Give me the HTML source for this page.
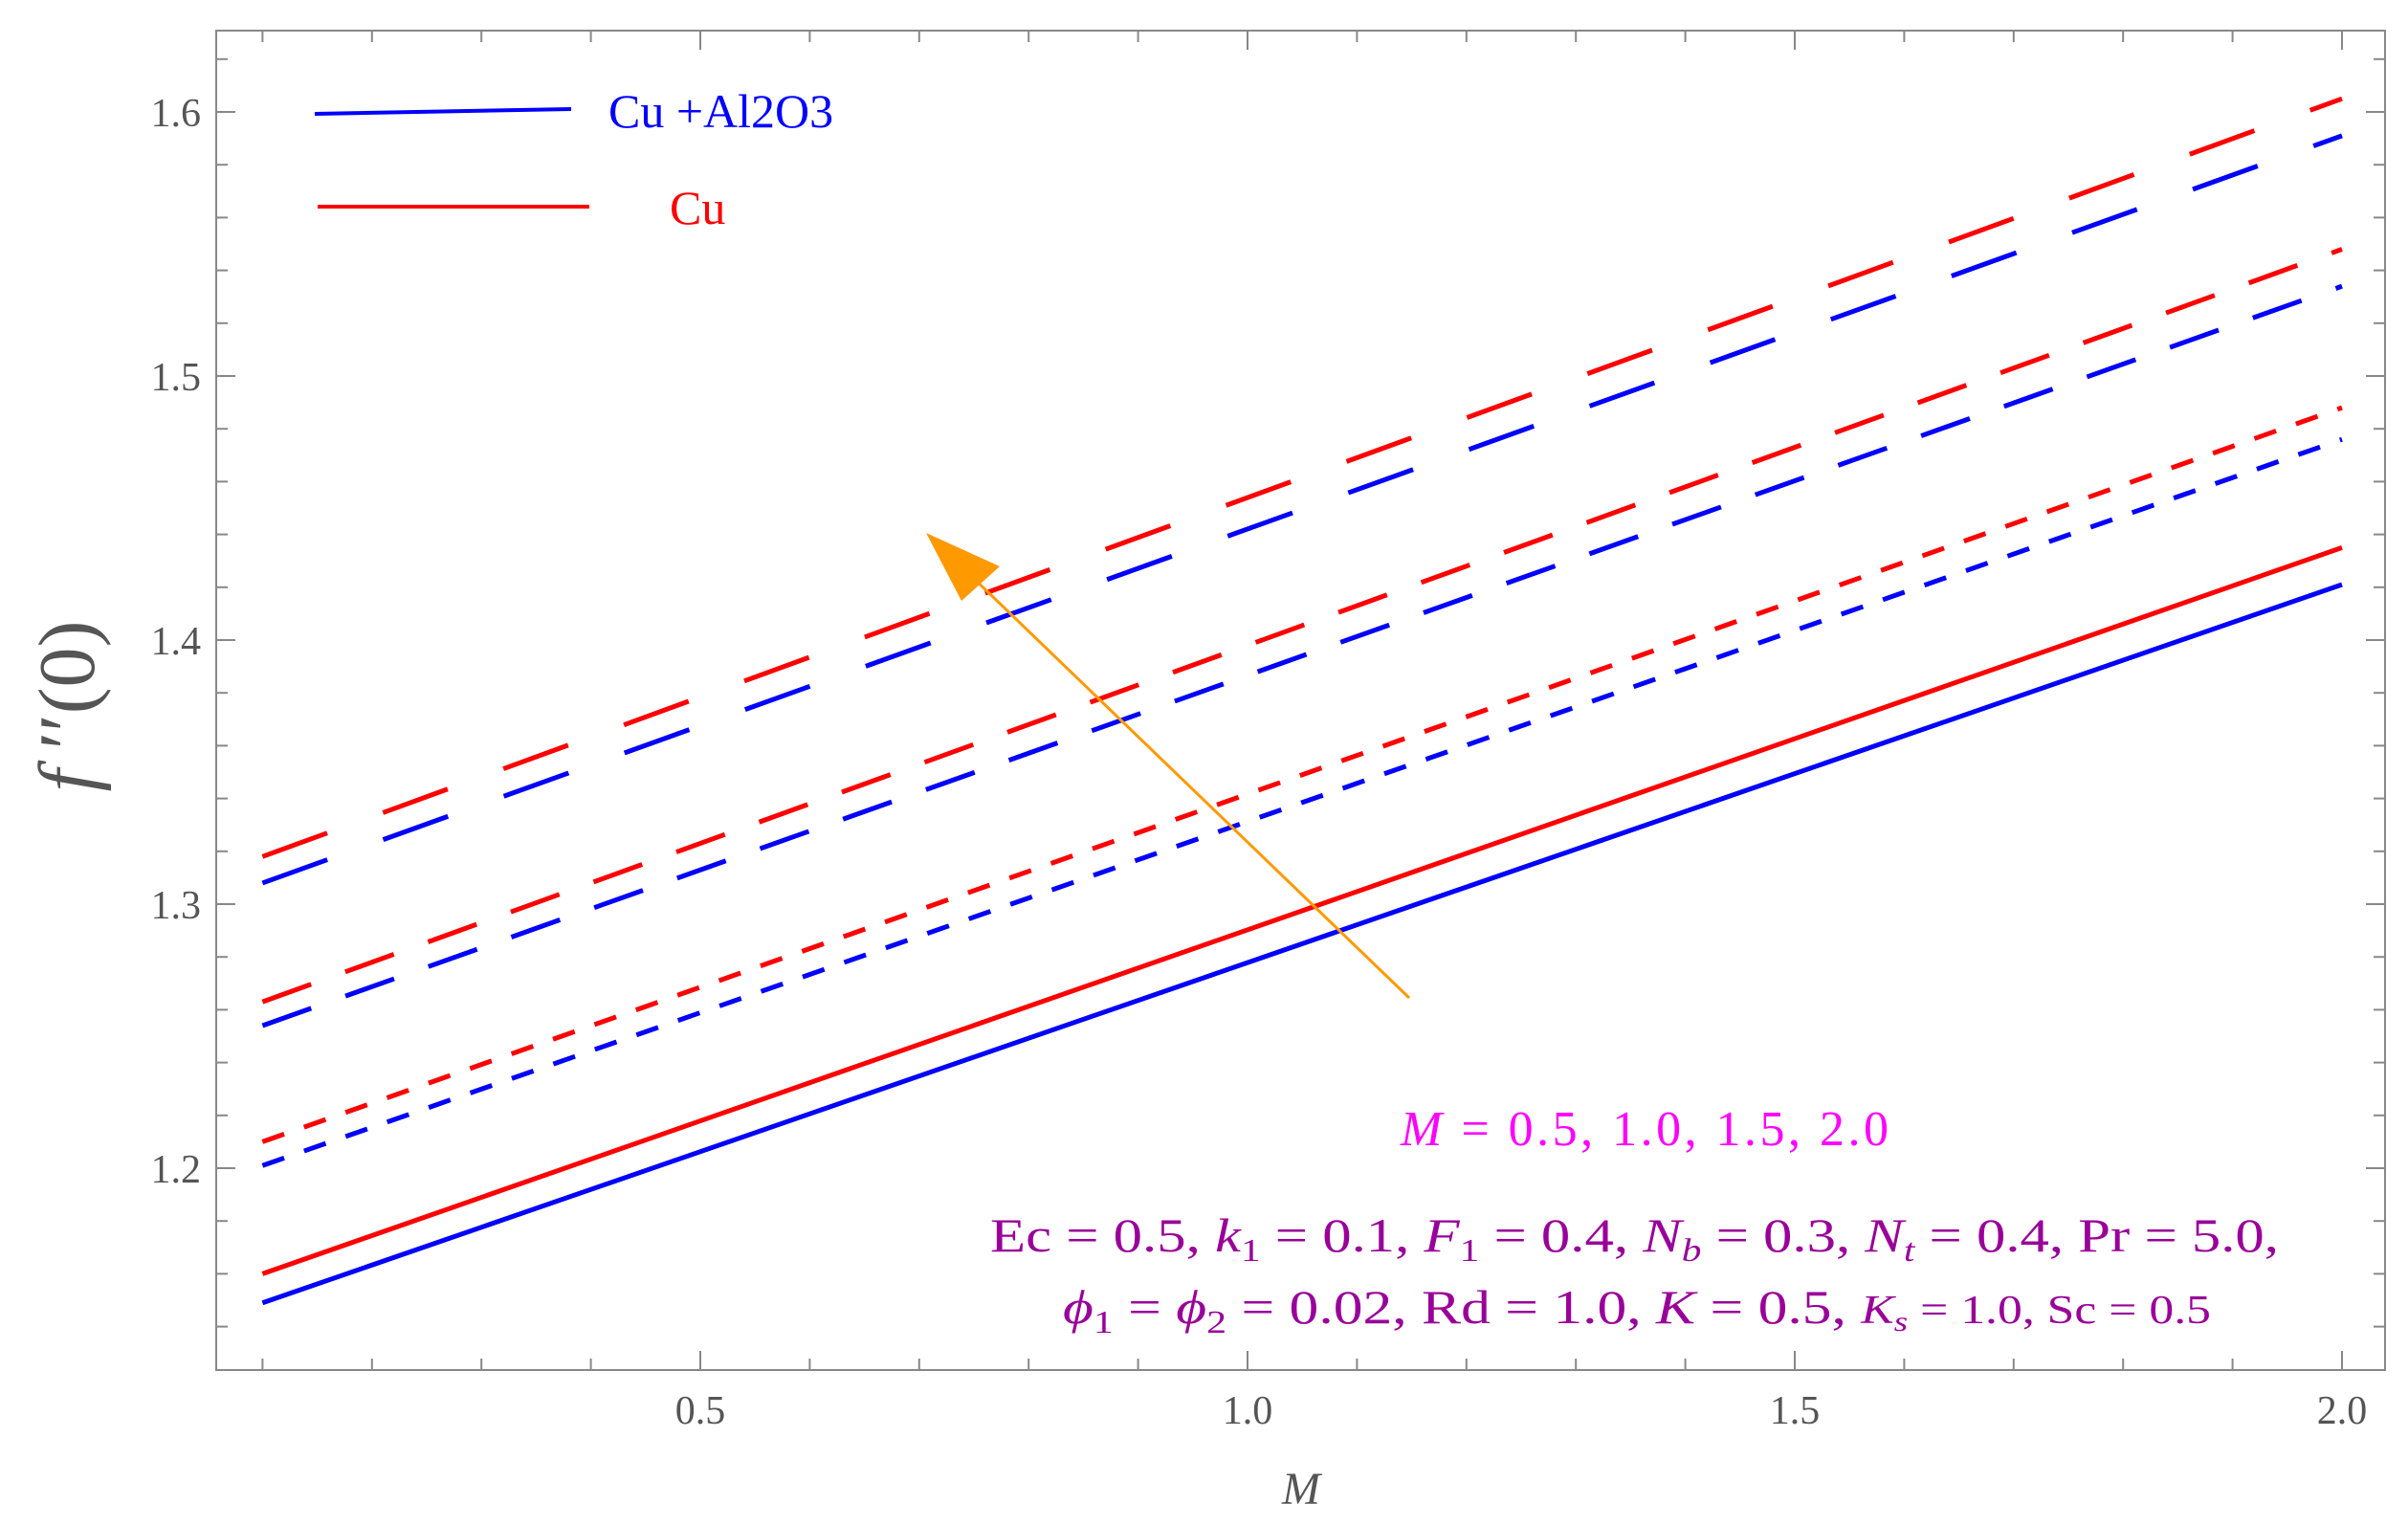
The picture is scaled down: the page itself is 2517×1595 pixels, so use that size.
<!DOCTYPE html>
<html><head><meta charset="utf-8"><style>
html,body{margin:0;padding:0;background:#fff;}
svg{display:block;font-family:"Liberation Serif",serif;}
</style></head><body>
<svg id="chart" width="2517" height="1595" viewBox="0 0 2517 1595" xmlns="http://www.w3.org/2000/svg">
<rect x="0" y="0" width="2517" height="1595" fill="#fff"/>
<g id="axes"></g>
<g id="series"></g>
<g id="legend">
  <line x1="329" y1="119" x2="597" y2="114" stroke="#0000ff" stroke-width="4"/>
  <text x="636" y="133" font-size="50" fill="#0000ff">Cu +Al2O3</text>
  <line x1="332" y1="216" x2="616" y2="216" stroke="#ff0000" stroke-width="4"/>
  <text x="700" y="234" font-size="50" fill="#ff0000">Cu</text>
</g>
<g id="arrow">
  <line x1="1473" y1="1043" x2="1010" y2="597" stroke="#ff9900" stroke-width="3"/>
  <polygon points="968,557 1045,592 1005,628" fill="#ff9900"/>
</g>
<text x="1719" y="1197" font-size="52" fill="#ff00ff" text-anchor="middle" textLength="510"><tspan font-style="italic">M</tspan> = 0.5, 1.0, 1.5, 2.0</text>
<text x="1035" y="1308" font-size="50" fill="#990099" textLength="1347" lengthAdjust="spacingAndGlyphs">Ec = 0.5, <tspan font-style="italic">k</tspan><tspan font-size="34" dy="10">1</tspan><tspan dy="-10"> = 0.1, </tspan><tspan font-style="italic">F</tspan><tspan font-size="34" dy="10">1</tspan><tspan dy="-10"> = 0.4, </tspan><tspan font-style="italic">N</tspan><tspan font-size="34" dy="10" font-style="italic">b</tspan><tspan dy="-10"> = 0.3, </tspan><tspan font-style="italic">N</tspan><tspan font-size="34" dy="10" font-style="italic">t</tspan><tspan dy="-10"> = 0.4, Pr = 5.0,</tspan></text>
<text x="1111" y="1383" font-size="50" fill="#990099" textLength="1200" lengthAdjust="spacingAndGlyphs"><tspan font-style="italic">ϕ</tspan><tspan font-size="34" dy="10">1</tspan><tspan dy="-10"> = </tspan><tspan font-style="italic">ϕ</tspan><tspan font-size="34" dy="10">2</tspan><tspan dy="-10"> = 0.02, Rd = 1.0, </tspan><tspan font-style="italic">K</tspan> = 0.5, <tspan font-style="italic" font-size="42">K</tspan><tspan font-size="30" dy="8" font-style="italic">s</tspan><tspan dy="-8" font-size="42"> = 1.0, Sc = 0.5</tspan></text>
<text x="1360" y="1572" font-size="48" fill="#555" font-style="italic" text-anchor="middle">M</text>
<text transform="translate(98,738) rotate(-90)" font-size="84" fill="#555" text-anchor="middle"><tspan font-style="italic">f</tspan> ′′(0)</text>
</svg>
<script>
const xValues = [0.1, 2.0];
const cuAl2o3Solid = [1.149, 1.421];
const cuSolid = [1.160, 1.435];
const cuAl2o3Dotted = [1.201, 1.476];
const cuDotted = [1.210, 1.488];
const cuAl2o3Dashed = [1.254, 1.534];
const cuDashed = [1.263, 1.548];
const cuAl2o3LongDash = [1.308, 1.591];
const cuLongDash = [1.318, 1.605];
const xTickLabels = ["0.5", "1.0", "1.5", "2.0"];
const yTickLabels = ["1.2", "1.3", "1.4", "1.5", "1.6"];

const L = 226, R = 2493, T = 32, B = 1432;
function sx(v){ return 732 + (v - 0.5) * 1144; }
function sy(v){ return 1221 - (v - 1.2) * 2760; }
const NS = "http://www.w3.org/2000/svg";
function mk(tag, attrs, parent){
  const e = document.createElementNS(NS, tag);
  for (const k in attrs) e.setAttribute(k, attrs[k]);
  parent.appendChild(e);
  return e;
}
const axes = document.getElementById('axes');
const frame = mk('rect', {x:L, y:T, width:R-L, height:B-T, fill:'none', stroke:'#888', 'stroke-width':2}, axes);


for (let i = 1; i <= 20; i++) {
  const v = i / 10, x = sx(v), major = (i % 5 === 0);
  const len = major ? 20 : 12;
  mk('line', {x1:x, y1:B, x2:x, y2:B-len, stroke:'#888', 'stroke-width':2}, axes);
  mk('line', {x1:x, y1:T, x2:x, y2:T+len, stroke:'#888', 'stroke-width':2}, axes);
}
xTickLabels.forEach(function(t){
  const el = mk('text', {x:sx(parseFloat(t)), y:1488, 'font-size':42, fill:'#555', 'text-anchor':'middle'}, axes);
  el.textContent = t;
  
  
});
for (let i = 57; i <= 81; i++) {
  const v = i / 50, y = sy(v);
  if (y < T || y > B) continue;
  const major = (i % 5 === 0), len = major ? 20 : 12;
  mk('line', {x1:L, y1:y, x2:L+len, y2:y, stroke:'#888', 'stroke-width':2}, axes);
  mk('line', {x1:R, y1:y, x2:R-len, y2:y, stroke:'#888', 'stroke-width':2}, axes);
}
yTickLabels.forEach(function(t){
  const el = mk('text', {x:210, y:sy(parseFloat(t))+15, 'font-size':42, fill:'#555', 'text-anchor':'end'}, axes);
  el.textContent = t;
  
  
});
const seriesG = document.getElementById('series');
const defs = [
  [cuAl2o3Solid, '#0000ff', null, 'line-cu-al2o3-solid'],
  [cuSolid, '#ff0000', null, 'line-cu-solid'],
  [cuAl2o3Dotted, '#0000ff', '24 22', 'line-cu-al2o3-dotted'],
  [cuDotted, '#ff0000', '24 22', 'line-cu-dotted'],
  [cuAl2o3Dashed, '#0000ff', '54 38', 'line-cu-al2o3-dashed'],
  [cuDashed, '#ff0000', '54 38', 'line-cu-dashed'],
  [cuAl2o3LongDash, '#0000ff', '72 62', 'line-cu-al2o3-longdash'],
  [cuLongDash, '#ff0000', '72 62', 'line-cu-longdash']
];
defs.forEach(function(d){
  const pts = xValues.map(function(x, i){ return sx(x) + ',' + sy(d[0][i]); }).join(' ');
  const a = {points:pts, fill:'none', stroke:d[1], 'stroke-width':5};
  if (d[2]) a['stroke-dasharray'] = d[2];
  const el = mk('polyline', a, seriesG);
  
  
});
</script>
</body></html>
